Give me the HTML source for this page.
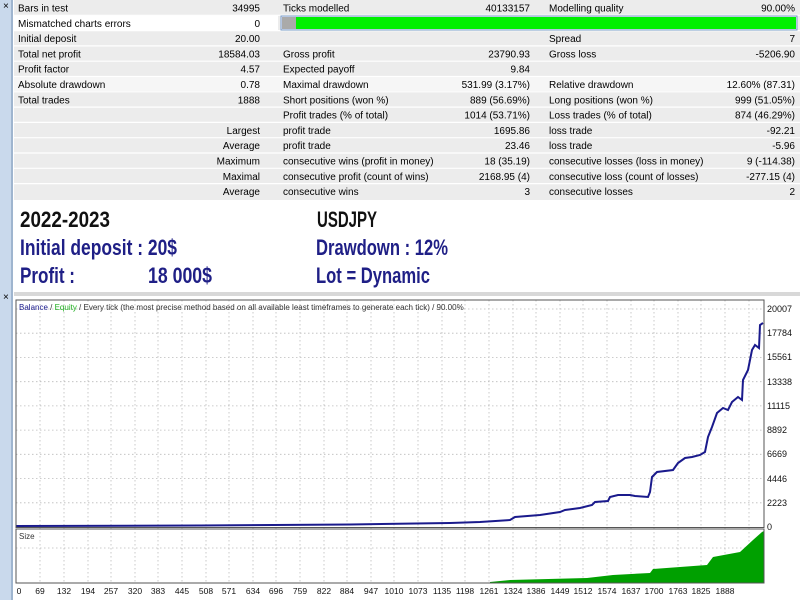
<!DOCTYPE html>
<html><head><meta charset="utf-8"><style>
html,body{margin:0;padding:0;background:#fff;}
svg{display:block;font-family:"Liberation Sans",sans-serif;}
</style></head><body>
<svg width="800" height="600" viewBox="0 0 800 600" xmlns="http://www.w3.org/2000/svg">
<rect x="0" y="0" width="800" height="600" fill="#fff"/>
<rect x="0" y="0" width="13" height="600" fill="#c9d9ec"/>
<rect x="11" y="0" width="2" height="600" fill="#9fb5cf"/>
<text x="3" y="9" font-size="10" fill="#000">×</text>
<text x="3" y="300" font-size="10" fill="#000">×</text>
<g font-size="10" fill="#000">
<rect x="14" y="0" width="786" height="200" fill="#ececec"/>
<g stroke="#fff" stroke-width="1.2">
<line x1="14" y1="15.3" x2="800" y2="15.3"/><line x1="14" y1="30.6" x2="800" y2="30.6"/>
<line x1="14" y1="45.9" x2="800" y2="45.9"/><line x1="14" y1="61.2" x2="800" y2="61.2"/>
<line x1="14" y1="76.5" x2="800" y2="76.5"/><line x1="14" y1="91.8" x2="800" y2="91.8"/>
<line x1="14" y1="107.1" x2="800" y2="107.1"/><line x1="14" y1="122.4" x2="800" y2="122.4"/>
<line x1="14" y1="137.7" x2="800" y2="137.7"/><line x1="14" y1="153" x2="800" y2="153"/>
<line x1="14" y1="168.3" x2="800" y2="168.3"/><line x1="14" y1="183.6" x2="800" y2="183.6"/>
</g>
<rect x="14" y="15.8" width="264" height="14.3" fill="#fff"/>
<rect x="14" y="77" width="786" height="14.3" fill="#f6f6f6"/>
<rect x="281" y="16" width="516" height="14" fill="#eef" stroke="#7a9cc6" stroke-width="1"/>
<rect x="282" y="17" width="14" height="12" fill="#aaa"/>
<rect x="296" y="17" width="500" height="12" fill="#00f000"/>
<g>
<text x="18" y="11.5">Bars in test</text><text x="260" y="11.5" text-anchor="end">34995</text>
<text x="283" y="11.5">Ticks modelled</text><text x="530" y="11.5" text-anchor="end">40133157</text>
<text x="549" y="11.5">Modelling quality</text><text x="795" y="11.5" text-anchor="end">90.00%</text>
<text x="18" y="26.8">Mismatched charts errors</text><text x="260" y="26.8" text-anchor="end">0</text>
<text x="18" y="42.1">Initial deposit</text><text x="260" y="42.1" text-anchor="end">20.00</text>
<text x="549" y="42.1">Spread</text><text x="795" y="42.1" text-anchor="end">7</text>
<text x="18" y="57.4">Total net profit</text><text x="260" y="57.4" text-anchor="end">18584.03</text>
<text x="283" y="57.4">Gross profit</text><text x="530" y="57.4" text-anchor="end">23790.93</text>
<text x="549" y="57.4">Gross loss</text><text x="795" y="57.4" text-anchor="end">-5206.90</text>
<text x="18" y="72.7">Profit factor</text><text x="260" y="72.7" text-anchor="end">4.57</text>
<text x="283" y="72.7">Expected payoff</text><text x="530" y="72.7" text-anchor="end">9.84</text>
<text x="18" y="88">Absolute drawdown</text><text x="260" y="88" text-anchor="end">0.78</text>
<text x="283" y="88">Maximal drawdown</text><text x="530" y="88" text-anchor="end">531.99 (3.17%)</text>
<text x="549" y="88">Relative drawdown</text><text x="795" y="88" text-anchor="end">12.60% (87.31)</text>
<text x="18" y="103.3">Total trades</text><text x="260" y="103.3" text-anchor="end">1888</text>
<text x="283" y="103.3">Short positions (won %)</text><text x="530" y="103.3" text-anchor="end">889 (56.69%)</text>
<text x="549" y="103.3">Long positions (won %)</text><text x="795" y="103.3" text-anchor="end">999 (51.05%)</text>
<text x="283" y="118.6">Profit trades (% of total)</text><text x="530" y="118.6" text-anchor="end">1014 (53.71%)</text>
<text x="549" y="118.6">Loss trades (% of total)</text><text x="795" y="118.6" text-anchor="end">874 (46.29%)</text>
<text x="260" y="133.9" text-anchor="end">Largest</text>
<text x="283" y="133.9">profit trade</text><text x="530" y="133.9" text-anchor="end">1695.86</text>
<text x="549" y="133.9">loss trade</text><text x="795" y="133.9" text-anchor="end">-92.21</text>
<text x="260" y="149.2" text-anchor="end">Average</text>
<text x="283" y="149.2">profit trade</text><text x="530" y="149.2" text-anchor="end">23.46</text>
<text x="549" y="149.2">loss trade</text><text x="795" y="149.2" text-anchor="end">-5.96</text>
<text x="260" y="164.5" text-anchor="end">Maximum</text>
<text x="283" y="164.5">consecutive wins (profit in money)</text><text x="530" y="164.5" text-anchor="end">18 (35.19)</text>
<text x="549" y="164.5">consecutive losses (loss in money)</text><text x="795" y="164.5" text-anchor="end">9 (-114.38)</text>
<text x="260" y="179.8" text-anchor="end">Maximal</text>
<text x="283" y="179.8">consecutive profit (count of wins)</text><text x="530" y="179.8" text-anchor="end">2168.95 (4)</text>
<text x="549" y="179.8">consecutive loss (count of losses)</text><text x="795" y="179.8" text-anchor="end">-277.15 (4)</text>
<text x="260" y="195.1" text-anchor="end">Average</text>
<text x="283" y="195.1">consecutive wins</text><text x="530" y="195.1" text-anchor="end">3</text>
<text x="549" y="195.1">consecutive losses</text><text x="795" y="195.1" text-anchor="end">2</text>
</g>
</g>
<rect x="14" y="200" width="786" height="92" fill="#fff"/>
<g font-family="'Liberation Sans',sans-serif" font-weight="bold" font-size="22">
<text x="20" y="227" fill="#111" textLength="90" lengthAdjust="spacingAndGlyphs">2022-2023</text>
<text x="20" y="255" fill="#1f1f86" textLength="157" lengthAdjust="spacingAndGlyphs">Initial deposit : 20$</text>
<text x="20" y="283" fill="#1f1f86" textLength="55" lengthAdjust="spacingAndGlyphs">Profit :</text>
<text x="148" y="283" fill="#1f1f86" textLength="64" lengthAdjust="spacingAndGlyphs">18 000$</text>
<text x="317" y="227" fill="#111" textLength="60" lengthAdjust="spacingAndGlyphs">USDJPY</text>
<text x="316" y="255" fill="#1f1f86" textLength="132" lengthAdjust="spacingAndGlyphs">Drawdown : 12%</text>
<text x="316" y="283" fill="#1f1f86" textLength="114" lengthAdjust="spacingAndGlyphs">Lot = Dynamic</text>
</g>
<rect x="14" y="292" width="786" height="4" fill="#d8d8d8"/>
<rect x="14" y="296" width="786" height="304" fill="#fff"/>
<g stroke="#bbb" stroke-width="0.8" stroke-dasharray="1.5,2.5">
<line x1="16" y1="309" x2="764" y2="309"/><line x1="16" y1="333.2" x2="764" y2="333.2"/>
<line x1="16" y1="357.4" x2="764" y2="357.4"/><line x1="16" y1="381.7" x2="764" y2="381.7"/>
<line x1="16" y1="405.9" x2="764" y2="405.9"/><line x1="16" y1="430.1" x2="764" y2="430.1"/>
<line x1="16" y1="454.3" x2="764" y2="454.3"/><line x1="16" y1="478.6" x2="764" y2="478.6"/>
<line x1="16" y1="502.8" x2="764" y2="502.8"/>
<line x1="16" y1="548" x2="764" y2="548"/>
</g>
<g stroke="#bbb" stroke-width="0.8" stroke-dasharray="1.5,2.5">
<line x1="40" y1="300" x2="40" y2="583"/><line x1="64" y1="300" x2="64" y2="583"/>
<line x1="88" y1="300" x2="88" y2="583"/><line x1="111" y1="300" x2="111" y2="583"/>
<line x1="135" y1="300" x2="135" y2="583"/><line x1="158" y1="300" x2="158" y2="583"/>
<line x1="182" y1="300" x2="182" y2="583"/><line x1="206" y1="300" x2="206" y2="583"/>
<line x1="229" y1="300" x2="229" y2="583"/><line x1="253" y1="300" x2="253" y2="583"/>
<line x1="276" y1="300" x2="276" y2="583"/><line x1="300" y1="300" x2="300" y2="583"/>
<line x1="324" y1="300" x2="324" y2="583"/><line x1="347" y1="300" x2="347" y2="583"/>
<line x1="371" y1="300" x2="371" y2="583"/><line x1="394" y1="300" x2="394" y2="583"/>
<line x1="418" y1="300" x2="418" y2="583"/><line x1="442" y1="300" x2="442" y2="583"/>
<line x1="465" y1="300" x2="465" y2="583"/><line x1="489" y1="300" x2="489" y2="583"/>
<line x1="513" y1="300" x2="513" y2="583"/><line x1="536" y1="300" x2="536" y2="583"/>
<line x1="560" y1="300" x2="560" y2="583"/><line x1="583" y1="300" x2="583" y2="583"/>
<line x1="607" y1="300" x2="607" y2="583"/><line x1="631" y1="300" x2="631" y2="583"/>
<line x1="654" y1="300" x2="654" y2="583"/><line x1="678" y1="300" x2="678" y2="583"/>
<line x1="701" y1="300" x2="701" y2="583"/><line x1="725" y1="300" x2="725" y2="583"/>
<line x1="749" y1="300" x2="749" y2="583"/>
</g>
<polygon fill="#00a000" points="490,583 490,582 510,580 587,578 613,575 650,573 653,569 707,565 713,557 740,552 753,540 762,532 764,531 764,583"/>
<polyline fill="none" stroke="#1a1a8c" stroke-width="2" points="16,526 200,525.5 350,524.5 450,523 480,522 510,520 515,517 540,515 560,512 565,510 580,508 592,505 595,502 608,501 610,497 618,495 630,495 635,496 648,497 650,492 652,477 657,472 673,470 678,463 685,458 692,457 700,455 705,452 708,437 712,427 717,413 723,408 728,410 732,402 738,397 742,400 743,380 748,370 752,350 755,345 759,348 760,325 763,323"/>
<rect x="16" y="300" width="748" height="227.5" fill="none" stroke="#555" stroke-width="1"/>
<rect x="16" y="529" width="748" height="54" fill="none" stroke="#555" stroke-width="1"/>
<g font-size="8" fill="#333">
<text x="19" y="310"><tspan fill="#1a1a8c">Balance</tspan> / <tspan fill="#1fae1f">Equity</tspan> / Every tick (the most precise method based on all available least timeframes to generate each tick) / 90.00%</text>
<text x="19" y="539">Size</text>
</g>
<g font-size="9" fill="#111">
<text x="767" y="312">20007</text><text x="767" y="336">17784</text><text x="767" y="360">15561</text>
<text x="767" y="385">13338</text><text x="767" y="409">11115</text><text x="767" y="433">8892</text>
<text x="767" y="457">6669</text><text x="767" y="482">4446</text><text x="767" y="506">2223</text>
<text x="767" y="530">0</text>
</g>
<g font-size="8.5" fill="#111" text-anchor="middle">
<text x="19" y="594">0</text><text x="40" y="594">69</text><text x="64" y="594">132</text><text x="88" y="594">194</text>
<text x="111" y="594">257</text><text x="135" y="594">320</text><text x="158" y="594">383</text><text x="182" y="594">445</text>
<text x="206" y="594">508</text><text x="229" y="594">571</text><text x="253" y="594">634</text><text x="276" y="594">696</text>
<text x="300" y="594">759</text><text x="324" y="594">822</text><text x="347" y="594">884</text><text x="371" y="594">947</text>
<text x="394" y="594">1010</text><text x="418" y="594">1073</text><text x="442" y="594">1135</text><text x="465" y="594">1198</text>
<text x="489" y="594">1261</text><text x="513" y="594">1324</text><text x="536" y="594">1386</text><text x="560" y="594">1449</text>
<text x="583" y="594">1512</text><text x="607" y="594">1574</text><text x="631" y="594">1637</text><text x="654" y="594">1700</text>
<text x="678" y="594">1763</text><text x="701" y="594">1825</text><text x="725" y="594">1888</text>
</g>
</svg>
</body></html>
